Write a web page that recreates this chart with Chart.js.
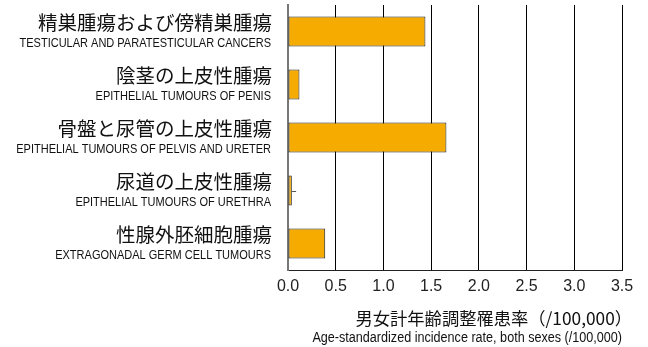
<!DOCTYPE html>
<html>
<head>
<meta charset="utf-8">
<script src="https://cdn.jsdelivr.net/npm/chart.js@4"></script>
<style>
html, body { margin: 0; padding: 0; background: #fff; }
</style>
</head>
<body>
<canvas id="grafico" width="648" height="347"></canvas>
<script>
const nomesJP = ['精巣腫瘍および傍精巣腫瘍', '陰茎の上皮性腫瘍', '骨盤と尿管の上皮性腫瘍', '尿道の上皮性腫瘍', '性腺外胚細胞腫瘍'];
const nomesEN = ['TESTICULAR AND PARATESTICULAR CANCERS', 'EPITHELIAL TUMOURS OF PENIS', 'EPITHELIAL TUMOURS OF PELVIS AND URETER', 'EPITHELIAL TUMOURS OF URETHRA', 'EXTRAGONADAL GERM CELL TUMOURS'];
const taxas = [1.44, 0.12, 1.66, 0.04, 0.39];
const erroSup = [null, null, null, 0.085, null];
const tituloJP = '男女計年齢調整罹患率（/100,000）';
const tituloEN = 'Age-standardized incidence rate, both sexes (/100,000)';

const FONTE_JP = '"Noto Sans CJK JP", sans-serif';
const FONTE_EN = '"Liberation Sans", Arial, sans-serif';

// fonte condensada simulada (escala horizontal)
function textoEstreito(ctx, txt, x, y, escala) {
    ctx.save();
    ctx.translate(x, y);
    ctx.scale(escala, 1);
    ctx.fillText(txt, 0, 0);
    ctx.restore();
}

// rotulos das categorias (duas linhas, fontes diferentes) + titulo do eixo x
const rotulos = {
    id: 'rotulos',
    afterDraw(chart) {
        const ctx = chart.ctx;
        const yS = chart.scales.y;
        const xS = chart.scales.x;
        ctx.save();
        ctx.fillStyle = '#111';
        ctx.textAlign = 'right';
        ctx.textBaseline = 'middle';
        nomesJP.forEach((n, i) => {
            const y = yS.getPixelForValue(i);
            ctx.font = '19.5px ' + FONTE_JP;
            ctx.fillText(n, 272, y - 9);
            ctx.font = '13.5px ' + FONTE_EN;
            textoEstreito(ctx, nomesEN[i], 271, y + 12, 0.815);
        });
        ctx.font = '17.3px ' + FONTE_JP;
        ctx.fillText(tituloJP, xS.right + 10, 318);
        ctx.font = '14px ' + FONTE_EN;
        textoEstreito(ctx, tituloEN, xS.right, 338, 0.9);
        ctx.restore();
    }
};

// barras de erro (so onde ha valor)
const barraErro = {
    id: 'barraErro',
    afterDatasetsDraw(chart) {
        const ctx = chart.ctx;
        const xS = chart.scales.x;
        const yS = chart.scales.y;
        ctx.save();
        ctx.strokeStyle = '#555';
        ctx.lineWidth = 1;
        erroSup.forEach((e, i) => {
            if (e == null) return;
            const y = Math.round(yS.getPixelForValue(i)) + 0.5;
            ctx.beginPath();
            ctx.moveTo(xS.getPixelForValue(taxas[i]), y);
            ctx.lineTo(xS.getPixelForValue(e), y);
            ctx.stroke();
        });
        ctx.restore();
    }
};

const ctx = document.getElementById('grafico').getContext('2d');
const grafico = new Chart(ctx, {
    type: 'bar',
    data: {
        labels: nomesJP,
        datasets: [{
            data: taxas,
            backgroundColor: '#F5AB00',
            borderColor: '#222',
            borderWidth: 1,
            borderSkipped: false,
            categoryPercentage: 1,
            barPercentage: 0.57
        }]
    },
    options: {
        indexAxis: 'y',
        responsive: false,
        animation: false,
        devicePixelRatio: 1,
        layout: { padding: { top: 5, right: 26, left: 0, bottom: 0 } },
        plugins: { legend: { display: false }, tooltip: { enabled: false } },
        scales: {
            x: {
                min: 0,
                max: 3.5,
                ticks: {
                    stepSize: 0.5,
                    padding: 7,
                    color: '#222',
                    font: { family: '"Liberation Sans", Arial, sans-serif', size: 16 },
                    callback: v => Number(v).toFixed(1)
                },
                grid: {
                    drawTicks: false,
                    color: c => (c.tick && c.tick.value === 0) ? '#777' : '#000',
                    lineWidth: 1
                },
                border: { display: true, color: '#222', width: 1 },
                afterFit: s => { s.height = 77; }
            },
            y: {
                ticks: { display: false },
                grid: { display: false },
                border: { display: true, color: '#777', width: 2 },
                afterFit: s => { s.width = 288; }
            }
        }
    },
    plugins: [rotulos, barraErro]
});
</script>
</body>
</html>
